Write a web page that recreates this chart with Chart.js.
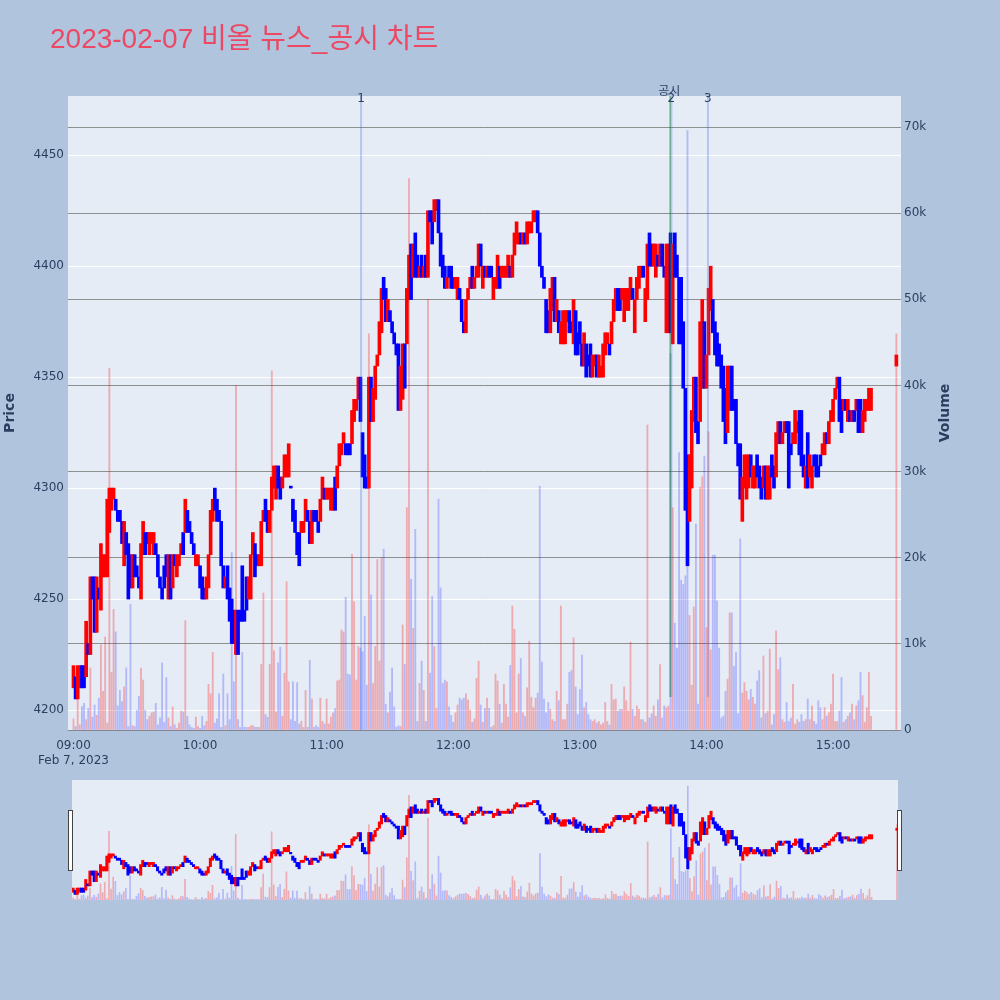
<!DOCTYPE html>
<html>
<head>
<meta charset="utf-8">
<script src="https://cdn.jsdelivr.net/npm/chart.js@4.4.0/dist/chart.umd.min.js"></script>
<style>
  body { margin: 0; background: #B0C4DE; width: 1000px; height: 1000px; overflow: hidden; position: relative; }
  #main { position: absolute; left: 0; top: 0; }
  #slider { position: absolute; left: 60px; top: 770px; }
</style>
</head>
<body>
<canvas id="main" width="1000" height="780"></canvas>
<canvas id="slider" width="850" height="140"></canvas>
<script>
// one candle per minute from 09:00 (index 0) to 15:18 (index 378)
const opens = [
  4210,4215,4205,4210,4220,4220,4215,4230,4225,4260, // 09:00
  4260,4235,4255,4245,4260,4260,4260,4280,4290,4295,
  4295,4290,4290,4285,4265,4280,4275,4270,4255,4270,
  4265,4260,4250,4270,4280,4280,4270,4275,4270,4275,
  4270,4260,4255,4265,4270,4250,4270,4255,4270,4260,
  4265,4270,4280,4280,4290,4285,4280,4275,4265,4265,
  4265,4260,4255,4250,4255,4270,4285,4300,4295,4290, // 10:00
  4285,4265,4255,4265,4255,4250,4245,4225,4245,4245,
  4265,4245,4260,4250,4250,4270,4275,4270,4265,4265,
  4285,4295,4290,4280,4290,4300,4295,4310,4305,4300,
  4305,4305,4305,4300,4295,4290,4280,4280,4280,4280,
  4285,4290,4285,4275,4290,4290,4285,4285,4295,4300,
  4295,4295,4290,4290,4305,4300,4310,4315,4320,4320, // 11:00
  4320,4320,4320,4330,4335,4340,4350,4325,4315,4305,
  4300,4350,4330,4340,4355,4360,4370,4395,4390,4375,
  4380,4375,4370,4365,4365,4335,4340,4365,4365,4385,
  4410,4395,4415,4405,4395,4405,4395,4405,4395,4425,
  4425,4420,4425,4430,4415,4405,4400,4390,4400,4400,
  4395,4390,4385,4390,4385,4375,4370,4385,4390,4400, // 12:00
  4390,4395,4395,4410,4390,4400,4395,4400,4400,4385,
  4390,4390,4400,4395,4395,4395,4395,4400,4395,4405,
  4410,4410,4415,4410,4415,4410,4415,4415,4420,4420,
  4425,4415,4400,4395,4385,4380,4370,4380,4395,4375,
  4380,4365,4365,4365,4375,4380,4375,4365,4380,4370,
  4375,4365,4355,4365,4360,4365,4350,4355,4360,4350, // 13:00
  4350,4350,4360,4365,4365,4365,4375,4380,4390,4390,
  4385,4375,4380,4380,4385,4390,4370,4385,4390,4395,
  4400,4375,4385,4415,4410,4400,4395,4405,4400,4410,
  4400,4370,4370,4415,4365,4415,4405,4395,4395,4375,
  4345,4315,4285,4300,4330,4350,4330,4330,4345,4375,
  4345,4360,4380,4385,4375,4370,4365,4360,4355,4345, // 14:00
  4325,4335,4355,4340,4340,4320,4320,4285,4300,4295,
  4300,4315,4300,4300,4315,4310,4305,4300,4310,4295,
  4295,4315,4310,4305,4320,4330,4320,4325,4330,4330,
  4320,4320,4320,4325,4335,4335,4315,4300,4325,4305,
  4300,4315,4315,4310,4315,4315,4315,4325,4320,4330,
  4330,4340,4345,4350,4340,4335,4340,4330,4335,4330, // 15:00
  4335,4335,4340,4340,4325,4330,4335,4335,4335
];
const closes = [
  4220,4205,4220,4220,4210,4210,4240,4225,4260,4250,
  4235,4260,4250,4275,4270,4270,4295,4300,4300,4300,
  4290,4285,4285,4275,4285,4270,4250,4255,4270,4260,
  4260,4255,4275,4285,4270,4275,4280,4280,4280,4270,
  4260,4255,4250,4255,4260,4270,4250,4270,4265,4270,
  4270,4275,4270,4295,4280,4280,4275,4270,4270,4270,
  4255,4250,4250,4260,4270,4290,4295,4290,4285,4285,
  4265,4255,4260,4250,4240,4230,4230,4245,4225,4240,
  4240,4240,4245,4260,4270,4280,4260,4265,4270,4285,
  4290,4285,4280,4290,4305,4310,4310,4300,4295,4305,
  4315,4315,4320,4300,4285,4280,4270,4265,4285,4285,
  4295,4285,4275,4290,4285,4285,4280,4295,4305,4295,
  4300,4300,4300,4300,4290,4310,4320,4320,4325,4315,
  4315,4315,4335,4340,4340,4350,4330,4305,4300,4300,
  4350,4330,4345,4355,4360,4375,4390,4385,4375,4385,
  4375,4370,4365,4360,4335,4355,4365,4345,4390,4405,
  4385,4410,4395,4395,4400,4395,4400,4395,4425,4420,
  4410,4430,4430,4415,4400,4395,4390,4395,4395,4390,
  4390,4395,4395,4385,4375,4370,4385,4390,4395,4390,
  4395,4400,4410,4400,4400,4395,4400,4395,4395,4395,
  4395,4405,4390,4400,4400,4400,4405,4395,4405,4415,
  4420,4415,4410,4415,4410,4420,4420,4420,4425,4425,
  4415,4400,4395,4390,4370,4370,4390,4395,4375,4385,
  4370,4375,4380,4380,4380,4370,4370,4385,4360,4360,
  4365,4355,4370,4350,4355,4350,4360,4360,4350,4360,
  4355,4365,4370,4370,4360,4375,4385,4390,4380,4380,
  4390,4390,4390,4390,4395,4385,4385,4395,4400,4400,
  4395,4390,4410,4400,4400,4410,4410,4400,4410,4400,
  4395,4410,4410,4370,4410,4395,4395,4365,4365,4345,
  4290,4265,4315,4335,4350,4325,4320,4375,4385,4345,
  4360,4390,4400,4370,4360,4355,4355,4345,4330,4320,
  4355,4355,4335,4335,4320,4310,4295,4305,4315,4315,
  4315,4305,4310,4310,4305,4300,4295,4310,4295,4310,
  4310,4305,4300,4325,4330,4320,4325,4330,4325,4300,
  4315,4325,4335,4330,4315,4310,4305,4310,4300,4315,
  4310,4310,4305,4305,4310,4320,4325,4320,4330,4335,
  4340,4345,4350,4330,4325,4340,4335,4340,4330,4335,
  4330,4340,4325,4325,4335,4340,4340,4345,4345
];
// volume per minute, in thousands of shares
const volumesK = [
  1.3,0.4,4.6,0.6,2.7,3.1,1.2,2.5,7.2,1.5,
  2.9,1.7,3.7,9.9,4.5,10.8,0.8,42,6.7,14,
  11.4,2.8,4.6,3.3,5,7.2,0.4,14.6,0.5,0.4,
  2.3,3.9,7.2,5.8,2.3,1.2,1.6,2,2.1,3.1,
  0.6,1.4,7.8,0.9,6.1,1.4,0.4,2.7,0.6,0.2,
  0.8,2.2,2.1,12.7,1.6,0.6,0.3,0.2,1.5,0.4,
  0.2,1.6,0.5,1.0,5.3,4.2,9,0.8,1.3,4.2,
  0.3,6.5,0.5,4.2,1.2,20.6,5.6,40,1.2,0.3,
  9,0.3,0.3,0.3,0.5,0.5,0.3,0.3,0.3,7.6,
  15.9,1.8,1.5,7.6,41.7,9.2,2.1,7.8,9.6,1.6,
  6.6,17.2,5.6,1.2,5.6,1,5.5,0.7,1,0.3,
  4.6,0.3,8.1,3.6,0.3,0.5,0.3,3.7,1,0.7,
  3.6,0.7,1.5,2,2.5,5.7,5.8,11.6,11.4,15.4,
  6.5,6.4,20.4,14.9,5.8,9.7,9.5,9.1,13.2,5.2,
  46,15.7,5.4,9.7,19.8,8,20,21,3,2,
  4.4,7.2,2.7,0.3,0.5,0.4,12.2,7.6,25.8,64,
  17.5,11.8,23.3,1,5.4,8,4.6,1,50,6.6,
  15.5,9.7,2.5,26.8,16.5,5.4,5.8,5.6,2.7,1.7,
  0.9,2,2.9,3.7,3.5,3.7,4.2,3.5,2.3,0.9,
  1.3,6,8,2.9,0.9,2.5,3.7,2.5,0.3,0.5,
  6.5,5.7,3,0.8,5.3,3,1.5,7.5,14.4,11.7,
  2,6.5,8.3,2,1.6,4.9,10.3,3.8,2.6,3.7,
  4.3,28.3,7.9,3.6,2,3.2,2.4,1.2,1,4.5,
  3.4,14.4,1.2,1.2,3,6.7,6.9,10.7,5,1.8,
  4.7,8.7,2.6,3.2,1.8,1.2,1,1.2,0.8,1,
  0.6,0.8,3.2,1,0.6,5.3,3.5,3.6,2.2,2.4,
  2.4,5,3.4,2.2,10.2,2.4,1.6,2.8,2.4,1.2,
  1.2,0.9,35.4,1.4,1.9,2.8,1.6,3.5,7.6,1.4,
  2.8,2.6,2.8,43.7,25.8,12.4,9.5,32.2,17.4,16.9,
  17.9,69.6,13.3,5.2,14.3,23.9,3,28.2,29.4,31.8,
  11.9,34.6,9.3,20.3,20.3,15,9.5,1.4,1.6,4.5,
  5.9,13.6,13.6,7.4,9,1.9,22.2,4.3,5.5,4.5,
  3.5,4.7,3.8,3,5.7,6.9,1.4,8.6,1.9,2.2,
  9.4,0.6,1.8,11.5,7,8.4,1.2,0.9,3.2,1,
  1.4,5.3,0.7,1.2,0.9,1.8,1,1.2,3.6,1.2,
  2.8,1,0.7,3.4,2.6,1.2,2.6,1.6,2,3,
  6.5,1,1,2.2,6.1,0.9,1.2,1.6,2,3,
  1.2,2.8,3.4,6.7,4,0.9,2.6,6.7,1.6
];
// closing single-price auction
const closeTime = '15:30';
const closeOpen = 4355;
const closeClose = 4360;
const closeVolumeK = 46;

const hourTicks = [0, 60, 120, 180, 240, 300, 360];
const hourLabels = ['09:00', '10:00', '11:00', '12:00', '13:00', '14:00', '15:00'];
const priceTicks = [4200, 4250, 4300, 4350, 4400, 4450];
const volumeTicks = [0, 10, 20, 30, 40, 50, 60, 70];

// news markers and the disclosure marker (minutes after 09:00)
const newsLabels = ['1', '2', '3'];
const newsMinutes = [136.3, 283.4, 300.7];
const noticeLabels = ['공시'];
const noticeMinutes = [282.8];

const TICK_FONT = 'DejaVu Sans';
const TEXT = '#2a3f5f';
const UP = '#ff0000';
const DOWN = '#0000ff';

function toMinute(t) {
  const [h, m] = t.split(':').map(Number);
  return (h - 9) * 60 + m;
}

const candles = opens.map((o, i) => ({ x: i, y: [o, closes[i]] }));
candles.push({ x: toMinute(closeTime), y: [closeOpen, closeClose] });
const vols = volumesK.map((v, i) => ({ x: i, y: v }));
vols.push({ x: toMinute(closeTime), y: closeVolumeK });
const isUp = candles.map(c => c.y[1] > c.y[0]);

const bgPlugin = {
  id: 'bg',
  beforeDraw(chart) {
    const { ctx, chartArea: a } = chart;
    ctx.save();
    ctx.fillStyle = '#E5ECF6';
    ctx.fillRect(a.left, a.top, a.right - a.left, a.bottom - a.top);
    ctx.restore();
  }
};

const overlayPlugin = {
  id: 'overlay',
  afterDatasetsDraw(chart) {
    const { ctx, chartArea: a, scales: { x } } = chart;
    ctx.save();
    // disclosure line
    noticeMinutes.forEach(m => {
      const px = x.getPixelForValue(m);
      ctx.strokeStyle = 'rgba(0,128,0,0.5)';
      ctx.lineWidth = 1.5;
      ctx.beginPath(); ctx.moveTo(px, a.top); ctx.lineTo(px, 697); ctx.stroke();
    });
    newsMinutes.forEach((m, i) => {
      const px = x.getPixelForValue(m);
      ctx.strokeStyle = 'rgba(65,105,225,0.3)';
      ctx.lineWidth = 2;
      ctx.beginPath(); ctx.moveTo(px, a.top); ctx.lineTo(px, i === 0 ? a.bottom : 697); ctx.stroke();
    });
    ctx.fillStyle = TEXT;
    ctx.textAlign = 'center';
    ctx.textBaseline = 'alphabetic';
    ctx.font = '12px "' + TICK_FONT + '"';
    newsMinutes.forEach((m, i) => {
      ctx.fillText(newsLabels[i], x.getPixelForValue(m), 102);
    });
    ctx.textBaseline = 'middle';
    ctx.font = '12px "Noto Sans CJK KR"';
    noticeMinutes.forEach((m, i) => {
      ctx.fillText(noticeLabels[i], x.getPixelForValue(m) - 1, 90);
    });
    ctx.restore();
  },
  afterDraw(chart) {
    const { ctx } = chart;
    ctx.save();
    // chart title
    ctx.fillStyle = '#EC4863';
    ctx.font = '28px "Liberation Sans", "Noto Sans CJK KR"';
    ctx.textAlign = 'left';
    ctx.textBaseline = 'middle';
    ctx.fillText('2023-02-07 비올 뉴스_공시 차트', 50, 40);
    // axis titles
    ctx.fillStyle = TEXT;
    ctx.font = 'bold 14px "' + TICK_FONT + '"';
    ctx.textAlign = 'center';
    ctx.translate(10, 413);
    ctx.rotate(-Math.PI / 2);
    ctx.fillText('Price', 0, 0);
    ctx.setTransform(1, 0, 0, 1, 0, 0);
    ctx.translate(945, 413);
    ctx.rotate(-Math.PI / 2);
    ctx.fillText('Volume', 0, 0);
    ctx.restore();
  }
};

new Chart(document.getElementById('main'), {
  type: 'bar',
  data: {
    datasets: [
      {
        label: 'Price',
        data: candles,
        yAxisID: 'y',
        backgroundColor: isUp.map(u => (u ? UP : DOWN)),
        barThickness: 3,
        minBarLength: 2,
        grouped: false,
        order: 0
      },
      {
        label: 'Volume',
        data: vols,
        yAxisID: 'y1',
        backgroundColor: isUp.map(u => (u ? 'rgba(255,0,0,0.28)' : 'rgba(0,0,255,0.22)')),
        barThickness: 1.2,
        grouped: false,
        order: 1
      }
    ]
  },
  options: {
    responsive: false,
    animation: false,
    devicePixelRatio: 1,
    layout: { padding: { top: 96, left: 0, right: 0, bottom: 0 } },
    plugins: { legend: { display: false }, tooltip: { enabled: false } },
    scales: {
      x: {
        type: 'linear',
        min: -2.6,
        max: 392.2,
        offset: false,
        grid: { display: false },
        border: { display: false },
        afterBuildTicks: s => { s.ticks = hourTicks.map(v => ({ value: v })); },
        afterFit: s => { s.height = 50; },
        ticks: {
          autoSkip: false,
          maxRotation: 0,
          padding: 0,
          color: TEXT,
          font: { family: TICK_FONT, size: 12, lineHeight: 1.25 },
          callback: (v, i) => (i === 0 ? [hourLabels[0], 'Feb 7, 2023'] : hourLabels[i])
        }
      },
      y: {
        position: 'left',
        min: 4191,
        max: 4476.7,
        afterBuildTicks: s => { s.ticks = priceTicks.map(v => ({ value: v })); },
        afterFit: s => { s.width = 68; },
        grid: { color: '#ffffff', drawTicks: false },
        border: { display: false },
        ticks: { padding: 4, color: TEXT, font: { family: TICK_FONT, size: 12 }, callback: v => String(v) }
      },
      y1: {
        position: 'right',
        min: 0,
        max: 73.6,
        afterBuildTicks: s => { s.ticks = volumeTicks.map(v => ({ value: v })); },
        afterFit: s => { s.width = 99; },
        grid: { color: 'rgba(120,120,120,0.8)', drawTicks: false },
        border: { display: false },
        ticks: {
          padding: 3,
          color: TEXT,
          font: { family: TICK_FONT, size: 12 },
          callback: v => (v === 0 ? '0' : v + 'k')
        }
      }
    }
  },
  plugins: [bgPlugin, overlayPlugin]
});

// range slider below the chart
const handlePlugin = {
  id: 'handles',
  afterDraw(chart) {
    const { ctx, chartArea: a } = chart;
    ctx.save();
    ctx.fillStyle = '#ffffff';
    ctx.strokeStyle = '#444444';
    ctx.lineWidth = 1;
    [a.left - 3.5, a.right - 0.5].forEach(hx => {
      ctx.fillRect(hx, 40.5, 4, 60);
      ctx.strokeRect(hx, 40.5, 4, 60);
    });
    ctx.restore();
  }
};

new Chart(document.getElementById('slider'), {
  type: 'bar',
  data: {
    datasets: [
      {
        data: candles,
        yAxisID: 'y',
        backgroundColor: isUp.map(u => (u ? UP : DOWN)),
        barThickness: 2.4,
        minBarLength: 1.5,
        grouped: false,
        order: 0
      },
      {
        data: vols,
        yAxisID: 'y1',
        backgroundColor: isUp.map(u => (u ? 'rgba(255,0,0,0.28)' : 'rgba(0,0,255,0.22)')),
        barThickness: 1,
        grouped: false,
        order: 1
      }
    ]
  },
  options: {
    responsive: false,
    animation: false,
    devicePixelRatio: 1,
    layout: { padding: { top: 10, bottom: 10, left: 12, right: 12 } },
    plugins: { legend: { display: false }, tooltip: { enabled: false } },
    scales: {
      x: { type: 'linear', min: -0.5, max: 390.5, offset: false, display: false },
      y: { min: 4192, max: 4473, display: false },
      y1: { min: 0, max: 73.3, display: false }
    }
  },
  plugins: [bgPlugin, handlePlugin]
});
</script>
</body>
</html>
